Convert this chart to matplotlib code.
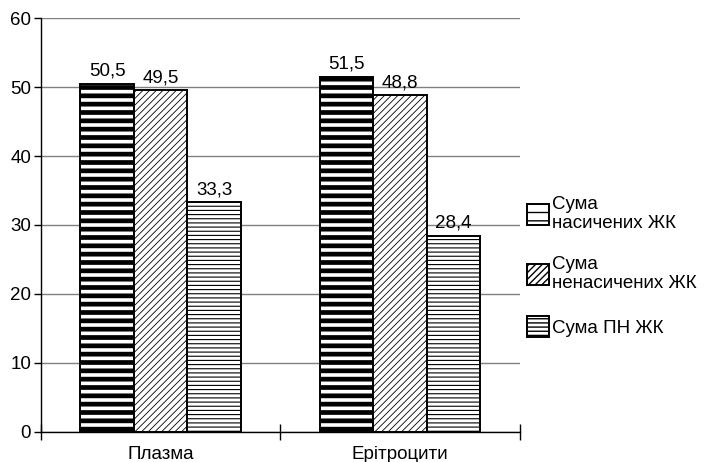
import numpy as np
import matplotlib
matplotlib.use("Agg")
import matplotlib.pyplot as plt

plt.rcParams['font.family'] = ['Liberation Sans', 'DejaVu Sans']

categories = ['Плазма', 'Ерітроцити']
series_names = ['Сума\nнасичених ЖК', 'Сума\nненасичених ЖК', 'Сума ПН ЖК']
values = [
    [50.5, 51.5],
    [49.5, 48.8],
    [33.3, 28.4],
]
value_labels = [
    ['50,5', '51,5'],
    ['49,5', '48,8'],
    ['33,3', '28,4'],
]

hatches = ['--', '/////', '----']
hatch_lw = [3.4, 0.6, 0.8]
fs = 13.5

fig = plt.figure(figsize=(7.1, 4.62), dpi=100)
ax = fig.add_axes([0.0577, 0.065, 0.6743, 0.896])

x = np.arange(len(categories))
w = 0.224
for i, vals in enumerate(values):
    with plt.rc_context({'hatch.linewidth': hatch_lw[i]}):
        bars = ax.bar(x + (i - 1) * w, vals, width=w, color='white',
                      edgecolor='black', linewidth=1.4, hatch=hatches[i],
                      zorder=3, label=series_names[i])
        for b in bars:
            if hasattr(b, 'set_hatch_linewidth'):
                b.set_hatch_linewidth(hatch_lw[i])
    for xi, v, lab in zip(x + (i - 1) * w, vals, value_labels[i]):
        ax.text(xi, v + 0.6, lab, ha='center', va='bottom', fontsize=fs, zorder=4)

ax.set_ylim(0, 60)
ax.set_xlim(-0.5, 1.5)
ax.set_yticks(range(0, 61, 10))
ax.yaxis.grid(True, color='#808080', linewidth=1.0, zorder=0)
ax.set_axisbelow(True)

ax.set_xticks([-0.5, 0.5, 1.5])
ax.set_xticklabels([])
ax.set_xticks(x, minor=True)
ax.set_xticklabels(categories, minor=True, fontsize=fs)
ax.tick_params(axis='x', which='major', direction='inout', length=12, width=1)
ax.tick_params(axis='x', which='minor', length=0, pad=10)
ax.tick_params(axis='y', direction='out', length=5, width=1, labelsize=fs, pad=2)

for s in ['top', 'right']:
    ax.spines[s].set_visible(False)
ax.spines['left'].set_linewidth(1)
ax.spines['bottom'].set_linewidth(1)

ax.legend(loc='center left', bbox_to_anchor=(0.995, 0.40), frameon=False,
          fontsize=fs, handlelength=1.2, handleheight=1.35,
          handletextpad=0.15, labelspacing=1.25, borderpad=0)

fig.savefig('out.png', dpi=100)
